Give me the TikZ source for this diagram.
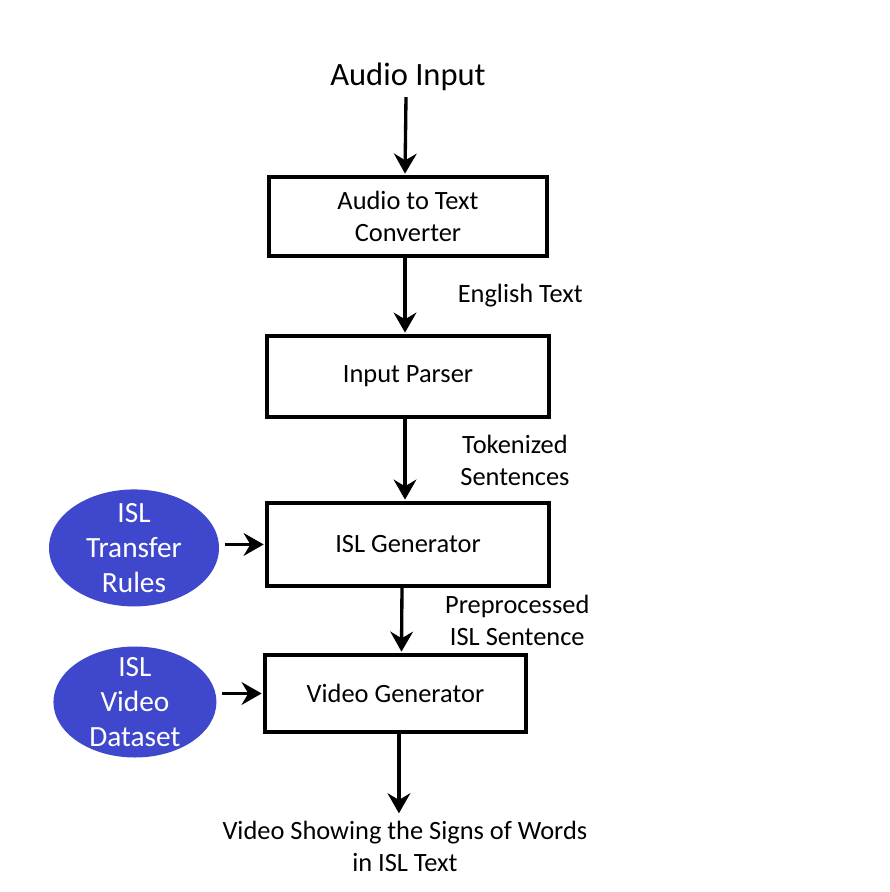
\documentclass[tikz,border=0pt]{standalone}
\usepackage{fontspec}
\setmainfont{Carlito}
\usetikzlibrary{arrows.meta, shapes.geometric}
\definecolor{islblue}{RGB}{63,72,204}

\begin{document}
\begin{tikzpicture}[x=0.75pt,y=-0.75pt,->,>={Stealth[length=15pt,width=17pt,inset=5pt]},shorten >=1pt,
  line width=2.5pt,
  block/.style={rectangle,draw,line width=3pt,align=center,
    font=\fontsize{19.8}{24}\selectfont},
  source/.style={ellipse,fill=islblue,text=white,align=center,inner xsep=0pt,
    inner ysep=-8pt,font=\fontsize{22}{26}\selectfont},
  lbl/.style={align=center,font=\fontsize{19.8}{24}\selectfont}]
  \useasboundingbox (0,0) rectangle (889,892);
  \node[lbl,font=\fontsize{24.4}{29}\selectfont] (in) at (408,77) {Audio Input};
  \node[block,minimum width=208.5pt,minimum height=59.25pt] (conv) [below of=in,node distance=104.6pt] {Audio to Text\\Converter};
  \node[block,minimum width=211.5pt,minimum height=60.75pt] (parser) [below of=conv,node distance=120pt] {Input Parser};
  \node[block,minimum width=211.5pt,minimum height=62.25pt] (islgen) [below of=parser,node distance=126pt] {ISL Generator};
  \node[block,minimum width=195.75pt,minimum height=57.75pt] (vidgen) [below of=islgen,node distance=111.75pt,xshift=-9.4pt] {Video Generator};
  \node[lbl] (out) [below of=vidgen,node distance=114.4pt,xshift=7.1pt] {Video Showing the Signs of Words\\in ISL Text};
  \node[source,minimum width=127.5pt,minimum height=87.75pt] (rules) [left of=islgen,node distance=205.5pt,yshift=-2.6pt] {ISL\\Transfer\\Rules};
  \node[source,minimum width=122.25pt,minimum height=83.25pt] (data) [left of=vidgen,node distance=195.4pt,yshift=-6.4pt] {ISL\\Video\\Dataset};
  \path[every node/.style={lbl}]
     ([xshift=-1.5pt]in.south) edge ([xshift=-2.25pt]conv.north)
     ([xshift=-2.25pt]conv.south) edge node [right=35pt]{English Text} ([xshift=-2.25pt]parser.north)
     ([xshift=-2.25pt]parser.south) edge node [right=37pt]{Tokenized\\Sentences} ([xshift=-2.25pt]islgen.north)
     ([xshift=-4.5pt]islgen.south) edge node [right=28pt]{Preprocessed\\ISL Sentence} ([xshift=4.5pt]vidgen.north)
     ([xshift=2.6pt]vidgen.south) edge ([xshift=-4.5pt]out.north)
     ([xshift=3pt,yshift=2.6pt]rules.east) edge (islgen.west)
     ([xshift=3pt,yshift=6.4pt]data.east) edge (vidgen.west);
\end{tikzpicture}
\end{document}
